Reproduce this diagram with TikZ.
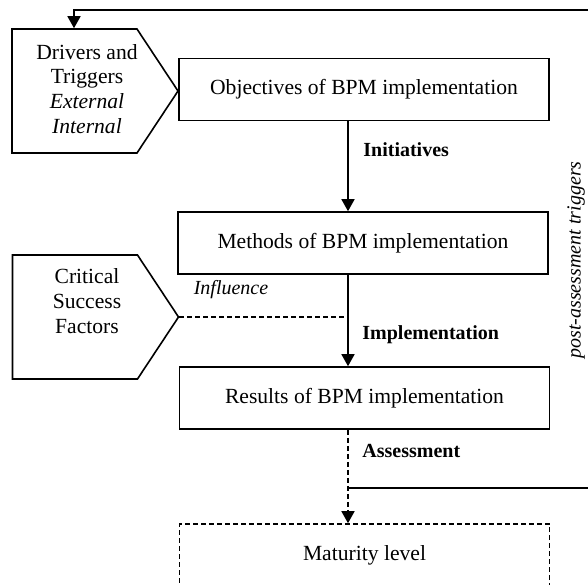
\documentclass[tikz,border=0pt]{standalone}
\usepackage{fontspec}
\setmainfont{Liberation Serif}
\usetikzlibrary{arrows.meta,shapes.symbols}
\begin{document}
\begin{tikzpicture}[x=0.5pt,y=-0.5pt,
  font=\fontsize{10.8}{12.4}\selectfont,
  box/.style={draw,line width=0.8pt,minimum width=185pt,minimum height=31pt,inner sep=0pt},
  pent/.style={draw,line width=0.8pt,shape=signal,signal to=east,signal from=nowhere,
    signal pointer angle=113,minimum width=83pt,minimum height=62pt,inner sep=0pt},
  ptext/.style={align=center,inner sep=0pt},
  link/.style={line width=0.8pt,-{Triangle[length=6pt,width=6.5pt]}},
  dashline/.style={line width=0.8pt,dash pattern=on 2.5pt off 1.5pt},
  small/.style={font=\fontsize{10}{12}\selectfont},
  lbl/.style={font=\fontsize{10}{12}\selectfont\bfseries,anchor=west,inner sep=0pt}]
  \useasboundingbox (0,0) rectangle (588,584);
  \clip (0,0) rectangle (588,584);
  % main column
  \node[box] (obj) at (364,89.5) {Objectives of BPM implementation};
  \node[box] (meth) at (363,243) {Methods of BPM implementation};
  \node[box] (res) at (364.5,398) {Results of BPM implementation};
  \node[box,dashline] (mat) at (364.5,555) {Maturity level};
  % side pentagons
  \node[pent] (drv) at (74.5,91) {};
  \node[ptext] (drvtext) at (87,89) {Drivers and\\Triggers\\\textit{External}\\\textit{Internal}};
  \node[pent] (csf) at (75,317) {};
  \node[ptext] (csftext) at (87,301) {Critical\\Success\\Factors};
  \coordinate (spine) at (348,0);
  \coordinate (back) at (600,10);
  \coordinate (fb) at (74,10);
  % connectors
  \draw[link] (obj.south -| spine) -- (meth.north -| spine);
  \draw[link] (meth.south -| spine) -- (res.north -| spine);
  \draw[link,dashline] (res.south -| spine) -- (mat.north -| spine);
  \draw[dashline] (csf.east) -- (csf.east -| spine);
  \draw[link] (spine |- 0,488) -- (back |- 0,488) -- (back) -- (fb) -- (drv.north -| fb);
  % labels
  \node[lbl] (ini) at (363,150) {Initiatives};
  \node[lbl] (imp) at (362,335) {Implementation};
  \node[lbl] (ass) at (362,451) {Assessment};
  \node[small] (inf) at (231,290) {\textit{Influence}};
  \node[small,rotate=90] (pat) at (576,260) {\textit{post-assessment triggers}};
\end{tikzpicture}
\end{document}
